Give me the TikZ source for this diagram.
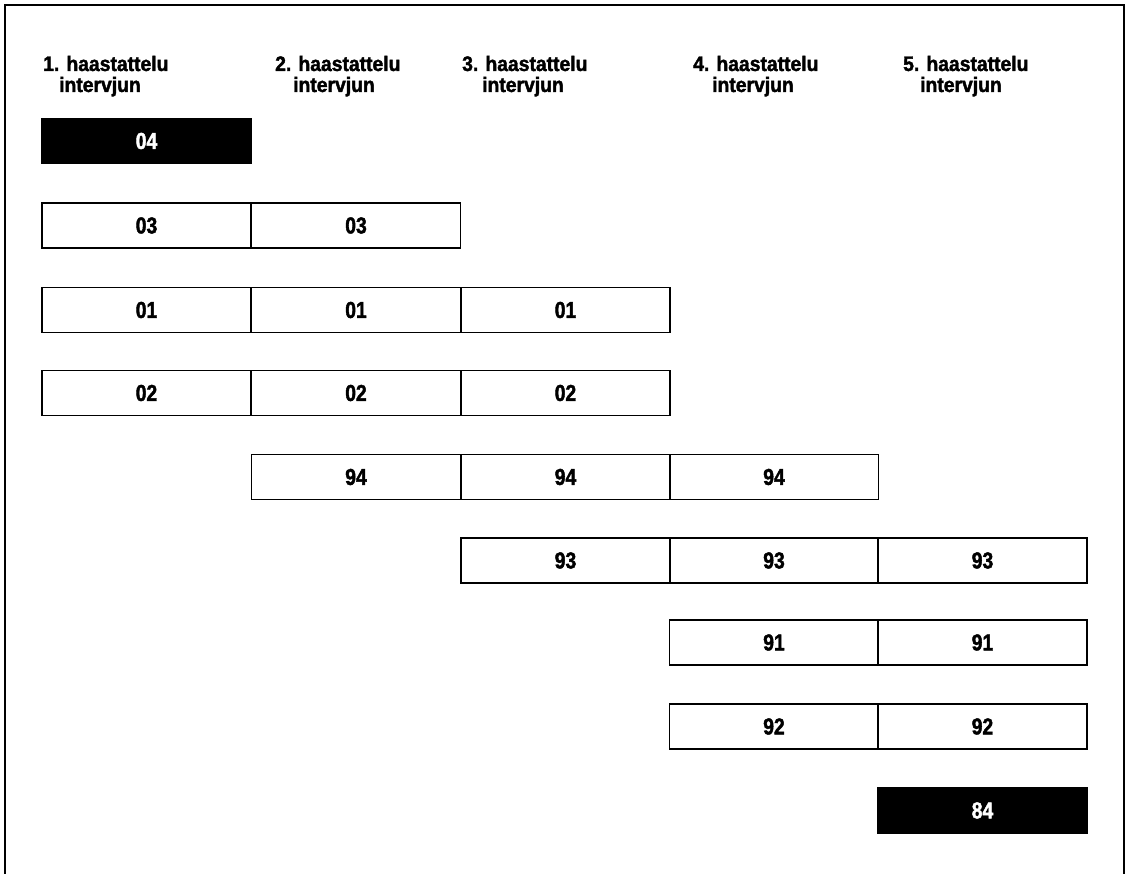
\documentclass[tikz,border=0pt]{standalone}
\usepackage{fontspec}
\setmainfont{Liberation Sans}[FakeStretch=0.84, BoldFeatures={FakeBold=1.8}]
\newfontfamily\hdrfont{Liberation Sans}[FakeStretch=0.92, BoldFeatures={FakeBold=1.8}]
\begin{document}
\begin{tikzpicture}[x=1pt,y=-1pt,
  lbl/.style={font=\fontsize{23}{23}\selectfont\bfseries},
  cell/.style={lbl, draw, line width=1.1pt, minimum width=209pt, minimum height=45pt, inner sep=0pt},
  dark/.style={cell, fill=black, text=white},
  hdr/.style={font=\hdrfont\fontsize{21}{21}\selectfont\bfseries, anchor=base west, inner sep=0pt, align=left}]
\useasboundingbox (0,0) rectangle (1130,874);
% frame
\draw[line width=1.5pt] (5,874) -- (5,5) -- (1124,5) -- (1124,874);
% headers (anchor at baseline of the last line)
\node[hdr] (h1) at (43,92) {1. haastattelu\\\hspace*{16pt}intervjun};
\node[hdr] (h2) at (275,92) {2. haastattelu\\\hspace*{18pt}intervjun};
\node[hdr] (h3) at (462,92) {3. haastattelu\\\hspace*{20pt}intervjun};
\node[hdr] (h4) at (693,92) {4. haastattelu\\\hspace*{19pt}intervjun};
\node[hdr] (h5) at (903,92) {5. haastattelu\\\hspace*{17pt}intervjun};
% row 04
\node[dark] (r1c1) at (146.5,141) {04};
% row 03
\node[cell] (r2c1) at (146.5,225.5) {03};
\node[cell] (r2c2) at (356,225.5) {03};
% row 01
\node[cell] (r3c1) at (146.5,310) {01};
\node[cell] (r3c2) at (356,310) {01};
\node[cell] (r3c3) at (565.5,310) {01};
% row 02
\node[cell] (r4c1) at (146.5,393) {02};
\node[cell] (r4c2) at (356,393) {02};
\node[cell] (r4c3) at (565.5,393) {02};
% row 94
\node[cell] (r5c2) at (356,477) {94};
\node[cell] (r5c3) at (565.5,477) {94};
\node[cell] (r5c4) at (774,477) {94};
% row 93
\node[cell] (r6c3) at (565.5,560.5) {93};
\node[cell] (r6c4) at (774,560.5) {93};
\node[cell] (r6c5) at (982.5,560.5) {93};
% row 91
\node[cell] (r7c4) at (774,642.5) {91};
\node[cell] (r7c5) at (982.5,642.5) {91};
% row 92
\node[cell] (r8c4) at (774,726.5) {92};
\node[cell] (r8c5) at (982.5,726.5) {92};
% row 84
\node[dark] (r9c5) at (982.5,810.5) {84};
\end{tikzpicture}
\end{document}
